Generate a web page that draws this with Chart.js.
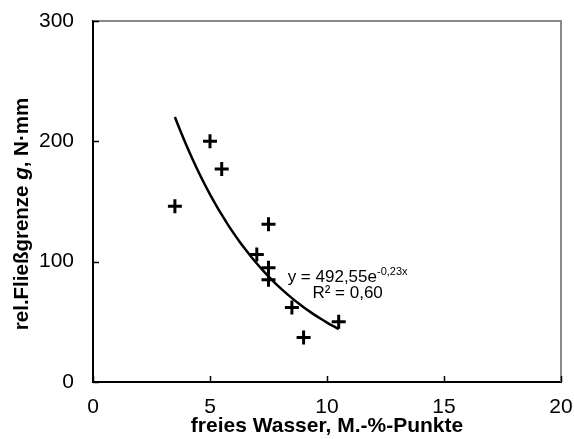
<!DOCTYPE html>
<html>
<head>
<meta charset="utf-8">
<script src="https://cdn.jsdelivr.net/npm/chart.js@4.4.1/dist/chart.umd.min.js"></script>
<style>
  html, body { margin: 0; padding: 0; background: #fff; }
</style>
</head>
<body>
<canvas id="scatterChart" width="574" height="439"></canvas>
<script>
// measured points: free water (M.-%-Punkte) vs relative yield point g (N·mm)
const freeWater = [3.5, 5.0, 5.5, 7.0, 7.5, 7.5, 7.5, 8.5, 9.0, 10.5];
const yieldPoint = [146, 200, 177, 106, 131, 95, 85, 62, 37, 50];

// exponential trendline y = a * e^(b*x)
const fitA = 492.55;
const fitB = -0.23;
const fitFrom = 3.5;
const fitTo = 10.5;

const xTickValues = [0, 5, 10, 15, 20];
const yTickValues = [0, 100, 200, 300];

const FONT = "'Liberation Sans', Arial, sans-serif";

const trendPoints = [];
for (let x = fitFrom; x <= fitTo + 1e-9; x += 0.25) {
  trendPoints.push({ x: x, y: fitA * Math.exp(fitB * x) });
}

const scatterPoints = freeWater.map((x, i) => ({ x: x, y: yieldPoint[i] }));

function noScalePadding(s) {
  s.paddingTop = 0;
  s.paddingBottom = 0;
  s.paddingLeft = 0;
  s.paddingRight = 0;
}

// inward tick marks, grey top/right frame, equation label and y title
const decorations = {
  id: 'decorations',
  afterDraw(chart) {
    const ctx = chart.ctx;
    const area = chart.chartArea;
    const xs = chart.scales.x;
    const ys = chart.scales.y;

    ctx.save();
    ctx.strokeStyle = '#8a8a8a';
    ctx.lineWidth = 2;
    ctx.beginPath();
    ctx.moveTo(area.left, area.top);
    ctx.lineTo(area.right, area.top);
    ctx.lineTo(area.right, area.bottom);
    ctx.stroke();

    ctx.strokeStyle = '#000';
    ctx.lineWidth = 1.5;
    ctx.beginPath();
    xTickValues.forEach(v => {
      const px = Math.round(xs.getPixelForValue(v)) + 0.5;
      ctx.moveTo(px, area.bottom);
      ctx.lineTo(px, area.bottom - 6);
    });
    yTickValues.forEach(v => {
      const py = Math.round(ys.getPixelForValue(v)) + 0.5;
      ctx.moveTo(area.left, py);
      ctx.lineTo(area.left + 6, py);
    });
    ctx.stroke();

    // trendline equation
    ctx.fillStyle = '#000';
    ctx.textBaseline = 'alphabetic';
    const cx = xs.getPixelForValue(10.88);
    const line1 = 'y = 492,55e';
    const sup = '-0,23x';
    ctx.font = '17px ' + FONT;
    const w1 = ctx.measureText(line1).width;
    ctx.font = '11px ' + FONT;
    const wSup = ctx.measureText(sup).width;
    const startX = cx - (w1 + wSup) / 2;
    const base1 = ys.getPixelForValue(83.5);
    ctx.font = '17px ' + FONT;
    ctx.textAlign = 'left';
    ctx.fillText(line1, startX, base1);
    ctx.font = '11px ' + FONT;
    ctx.fillText(sup, startX + w1, base1 - 7);
    ctx.font = '17px ' + FONT;
    ctx.textAlign = 'center';
    ctx.fillText('R² = 0,60', cx, ys.getPixelForValue(70));

    // y axis title with italic g
    const parts = [
      { t: 'rel.Fließgrenze ', f: 'bold 20.5px ' + FONT },
      { t: 'g', f: 'italic bold 20.5px ' + FONT },
      { t: ', N·mm', f: 'bold 20.5px ' + FONT }
    ];
    let total = 0;
    parts.forEach(p => { ctx.font = p.f; p.w = ctx.measureText(p.t).width; total += p.w; });
    ctx.translate(28, 214);
    ctx.rotate(-Math.PI / 2);
    ctx.textAlign = 'left';
    let off = -total / 2;
    parts.forEach(p => {
      ctx.font = p.f;
      ctx.fillText(p.t, off, 0);
      off += p.w;
    });
    ctx.restore();
  }
};

new Chart(document.getElementById('scatterChart'), {
  type: 'scatter',
  data: {
    datasets: [
      {
        label: 'Messwerte',
        data: scatterPoints,
        pointStyle: 'cross',
        pointRadius: 7,
        pointHoverRadius: 7,
        borderColor: '#000',
        backgroundColor: '#000',
        pointBorderWidth: 3,
        order: 1
      },
      {
        label: 'Trend',
        type: 'line',
        data: trendPoints,
        showLine: true,
        borderColor: '#000',
        borderWidth: 2.5,
        pointRadius: 0,
        tension: 0.3,
        fill: false,
        order: 2
      }
    ]
  },
  options: {
    responsive: false,
    animation: false,
    layout: { padding: { top: 21, right: 13, left: 0, bottom: 0 } },
    scales: {
      x: {
        type: 'linear',
        min: 0,
        max: 20,
        afterFit: s => { s.height = 57; noScalePadding(s); },
        afterBuildTicks: s => { s.ticks = xTickValues.map(v => ({ value: v })); },
        ticks: { color: '#000', font: { family: FONT, size: 21 }, padding: 13, maxRotation: 0 },
        grid: { display: false, drawTicks: false },
        border: { display: true, color: '#000', width: 2 },
        title: {
          display: true,
          text: 'freies Wasser, M.-%-Punkte',
          color: '#000',
          font: { family: FONT, size: 21, weight: 'bold' },
          padding: { top: -5, bottom: 0 }
        }
      },
      y: {
        min: 0,
        max: 300,
        afterFit: s => { s.width = 93; noScalePadding(s); },
        afterBuildTicks: s => { s.ticks = yTickValues.map(v => ({ value: v })); },
        ticks: { color: '#000', font: { family: FONT, size: 21 }, padding: 19 },
        grid: { display: false, drawTicks: false },
        border: { display: true, color: '#000', width: 2 }
      }
    },
    plugins: {
      legend: { display: false },
      tooltip: { enabled: false }
    }
  },
  plugins: [decorations]
});
</script>
</body>
</html>
